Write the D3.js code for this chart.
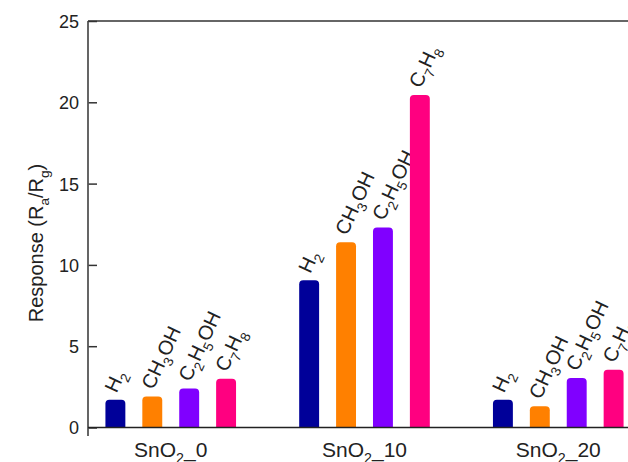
<!DOCTYPE html>
<html><head><meta charset="utf-8">
<script src="https://cdn.jsdelivr.net/npm/d3@7"></script>
<style>body{margin:0;background:#fff}svg{display:block}text{font-family:"Liberation Sans",Arial,sans-serif;fill:#222}</style>
</head><body><svg id="c" width="628" height="462"></svg>
<script>
const groups = ["SnO2_0", "SnO2_10", "SnO2_20"];
const gases = ["H2", "CH3OH", "C2H5OH", "C7H8"];
const valuesSnO2_0 = [1.7, 1.9, 2.4, 3.0];
const valuesSnO2_10 = [9.05, 11.4, 12.3, 20.45];
const valuesSnO2_20 = [1.7, 1.3, 3.05, 3.55];
const yTicks = [0, 5, 10, 15, 20, 25];
const colors = ["#000099", "#ff8000", "#8000ff", "#ff0080"];
// label parts: [text, isSub]
const gasParts = {
  "H2": [["H",0],["2",1]],
  "CH3OH": [["CH",0],["3",1],["OH",0]],
  "C2H5OH": [["C",0],["2",1],["H",0],["5",1],["OH",0]],
  "C7H8": [["C",0],["7",1],["H",0],["8",1]]
};
const groupParts = {
  "SnO2_0": [["SnO",0],["2",1],["_0",0]],
  "SnO2_10": [["SnO",0],["2",1],["_10",0]],
  "SnO2_20": [["SnO",0],["2",1],["_20",0]]
};
const data = [valuesSnO2_0, valuesSnO2_10, valuesSnO2_20];

const svg = d3.select("#c");
const mLeft = 88, mRight = 641, mTop = 21, mBottom = 427.5;
const x0 = d3.scalePoint().domain(groups).range([mLeft, mRight]).padding(0.427);
const x1 = d3.scaleBand().domain(gases).range([-73.8, 73.8]).paddingInner(0.46).paddingOuter(0.23);
const y = d3.scaleLinear().domain([0, 25]).range([mBottom, mTop]);

function addParts(t, parts, fs) {
  let down = false;
  parts.forEach(([s, sub]) => {
    const ts = t.append("tspan").text(s);
    if (sub) { ts.attr("font-size", fs*0.68).attr("dy", down ? 0 : fs*0.3); down = true; }
    else { ts.attr("dy", down ? -fs*0.3 : 0); down = false; }
  });
}

// bars
const r = 4;
data.forEach((vals, gi) => {
  vals.forEach((v, i) => {
    const xc = x0(groups[gi]) + x1(gases[i]);
    const w = x1.bandwidth();
    const yt = y(v), yb = y(0);
    const p = d3.path();
    p.moveTo(xc, yb);
    p.lineTo(xc, yt + r);
    p.arcTo(xc, yt, xc + r, yt, r);
    p.lineTo(xc + w - r, yt);
    p.arcTo(xc + w, yt, xc + w, yt + r, r);
    p.lineTo(xc + w, yb);
    p.closePath();
    svg.append("path").attr("d", p.toString()).attr("fill", colors[i]);
    const cx = xc + w/2;
    const t = svg.append("text")
      .attr("transform", `translate(${cx + 1},${yt - 6}) rotate(-65)`)
      .attr("font-size", 20);
    addParts(t, gasParts[gases[i]], 20);
  });
});

// axes
const yAxis = d3.axisLeft(y).tickValues(yTicks).tickSize(-9).tickPadding(18).tickSizeOuter(0);
const ga = svg.append("g").attr("transform", `translate(${mLeft},0)`).call(yAxis);
ga.select(".domain").remove();
ga.selectAll(".tick line").attr("stroke", "#333").attr("stroke-width", 1.5);
ga.selectAll(".tick text").attr("font-size", 18).attr("font-family", "Liberation Sans, Arial, sans-serif").attr("fill", "#222").attr("x", -9).attr("dy", "0.36em");
svg.append("line").attr("x1", mLeft).attr("x2", mLeft).attr("y1", mTop).attr("y2", 436).attr("stroke", "#555").attr("stroke-width", 1.8);
svg.append("line").attr("x1", mLeft).attr("x2", 628).attr("y1", mTop).attr("y2", mTop).attr("stroke", "#333").attr("stroke-width", 1.5);
svg.append("line").attr("x1", mLeft).attr("x2", 628).attr("y1", mBottom).attr("y2", mBottom).attr("stroke", "#222").attr("stroke-width", 1.5);

// category labels
groups.forEach(g => {
  const t = svg.append("text").attr("x", x0(g)).attr("y", 457).attr("text-anchor", "middle").attr("font-size", 21);
  addParts(t, groupParts[g], 21);
});

// y title
const ytl = svg.append("text").attr("transform", "translate(43,243) rotate(-90)").attr("text-anchor", "middle").attr("font-size", 20);
addParts(ytl, [["Response (R",0],["a",1],["/R",0],["g",1],[")",0]], 20);
</script></body></html>
